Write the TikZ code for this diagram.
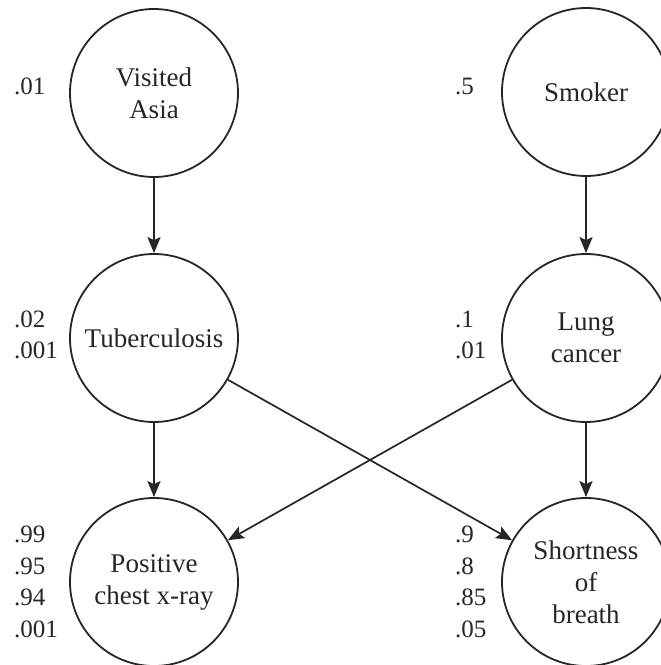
\documentclass[tikz,border=0pt]{standalone}
\usepackage{fontspec}
\setmainfont{Liberation Serif}
\usetikzlibrary{arrows.meta}

\begin{document}
\begin{tikzpicture}[x=1pt,y=-1pt,
  var/.style={circle, draw=black!85, line width=1.8pt, minimum size=168pt,
    inner sep=0pt, align=center, text=black!85,
    font=\fontsize{27}{32}\selectfont},
  prob/.style={anchor=west, inner sep=0pt, align=left, text=black!85,
    font=\fontsize{25}{31.5}\selectfont},
  link/.style={draw=black!85, line width=1.7pt,
    -{Stealth[length=16pt,width=13pt,inset=3pt]}}]
\useasboundingbox (0,0) rectangle (661,665);
\fill[white] (0,0) rectangle (661,665);

% variables of the network
\node[var] (asia)  at (154,93)  {Visited\\Asia};
\node[var] (smoke) at (586,92)  {Smoker};
\node[var] (tub)   at (154,338) {Tuberculosis};
\node[var] (lung)  at (586,338) {Lung\\cancer};
\node[var] (xray)  at (154,582) {Positive\\chest x-ray};
\node[var] (dysp)  at (586,582) {Shortness\\of\\breath};

% probability tables
\node[prob] (pasia)  at (14,86)   {.01};
\node[prob] (psmoke) at (455,86)  {.5};
\node[prob] (ptub)   at (14,335)  {.02\\.001};
\node[prob] (plung)  at (455,335) {.1\\.01};
\node[prob] (pxray)  at (14,582)  {.99\\.95\\.94\\.001};
\node[prob] (pdysp)  at (455,582) {.9\\.8\\.85\\.05};

% dependencies
\draw[link] (asia)  -- (tub);
\draw[link] (smoke) -- (lung);
\draw[link] (tub)   -- (xray);
\draw[link] (lung)  -- (dysp);
\draw[link] (tub)   -- (dysp);
\draw[link] (lung)  -- (xray);
\end{tikzpicture}
\end{document}
